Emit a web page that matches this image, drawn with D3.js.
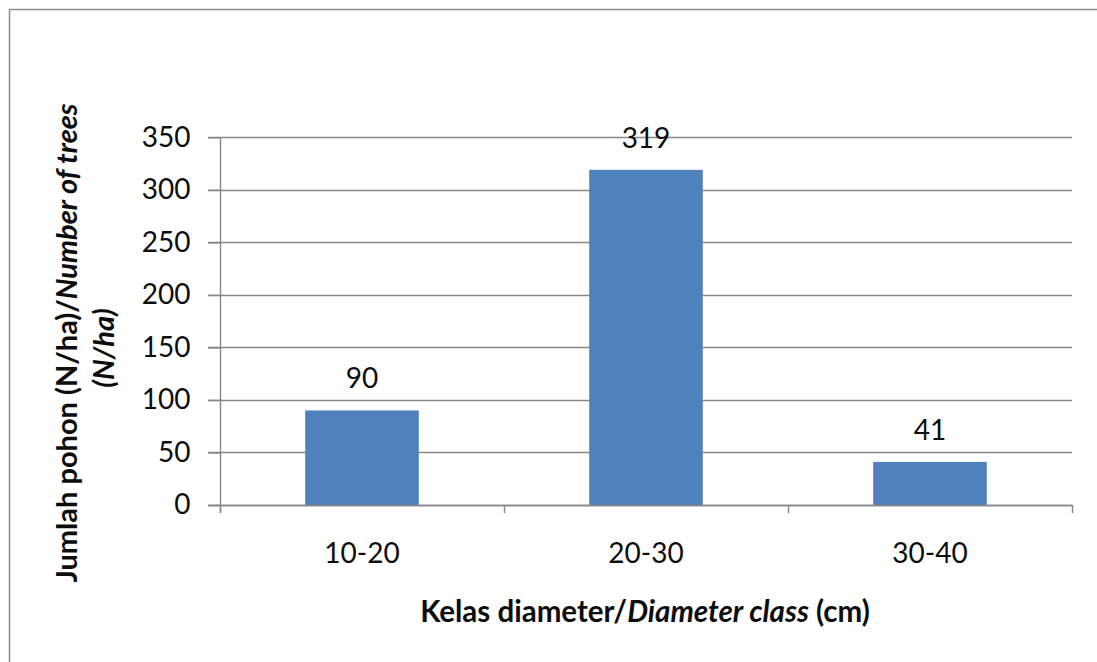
<!DOCTYPE html>
<html>
<head>
<meta charset="utf-8">
<script src="https://cdn.jsdelivr.net/npm/d3@7"></script>
<style>
  html, body { margin: 0; padding: 0; background: #fff; }
  svg { display: block; font-family: Lato, "Open Sans", sans-serif; }
</style>
</head>
<body>
<svg id="chart" width="1097" height="662"></svg>
<script>
// Tree density per diameter class
const categories = ["10-20", "20-30", "30-40"];
const values = [90, 319, 41];
const yTicks = [0, 50, 100, 150, 200, 250, 300, 350];

const svg = d3.select("#chart");
const W = 1097, H = 662;
const plot = { left: 220, right: 1072, top: 137.3, bottom: 505 };

svg.append("rect").attr("width", W).attr("height", H).attr("fill", "#fff");

// chart frame (left and top edges visible)
svg.append("path")
  .attr("d", `M9.5,${H} V9.5 H${W}`)
  .attr("fill", "none").attr("stroke", "#8c8c8c").attr("stroke-width", 1.5);

const x = d3.scaleBand().domain(categories)
  .range([plot.left, plot.right]).paddingInner(0.6).paddingOuter(0.3);
const y = d3.scaleLinear().domain([0, 350]).range([plot.bottom, plot.top]);

const axisColor = "#868686";
const textColor = "#0d0d0d";

// horizontal gridlines, extending through the tick marks
svg.append("g").selectAll("line").data(yTicks).join("line")
  .attr("x1", plot.left - 12).attr("x2", plot.right)
  .attr("y1", d => Math.round(y(d)) + 0.5).attr("y2", d => Math.round(y(d)) + 0.5)
  .attr("stroke", axisColor).attr("stroke-width", 1.4);

// y axis
const yAxis = d3.axisLeft(y).tickValues(yTicks).tickSize(12).tickPadding(18);
const gy = svg.append("g").attr("transform", `translate(${plot.left + 0.5},0)`).call(yAxis);
gy.select(".domain").remove();
gy.selectAll(".tick line").attr("stroke", axisColor).attr("stroke-width", 1.4);
gy.selectAll(".tick text")
  .attr("font-family", "Lato, sans-serif").attr("font-size", 28).attr("fill", textColor);
svg.append("line")
  .attr("x1", plot.left + 0.5).attr("x2", plot.left + 0.5)
  .attr("y1", plot.top).attr("y2", plot.bottom + 8)
  .attr("stroke", axisColor).attr("stroke-width", 1.4);

// bars
svg.append("g").selectAll("rect").data(values).join("rect")
  .attr("x", (d, i) => x(categories[i]))
  .attr("width", x.bandwidth())
  .attr("y", d => y(d))
  .attr("height", d => y(0) - y(d))
  .attr("fill", "#4F81BD");

// x axis line and category separators
svg.append("line")
  .attr("x1", plot.left - 12).attr("x2", plot.right)
  .attr("y1", Math.round(y(0)) + 0.5).attr("y2", Math.round(y(0)) + 0.5)
  .attr("stroke", axisColor).attr("stroke-width", 1.4);
const step = x.step();
const sepX = d3.range(categories.length + 1).map(i => plot.left + i * step);
svg.append("g").selectAll("line").data(sepX).join("line")
  .attr("x1", d => d + 0.5).attr("x2", d => d + 0.5)
  .attr("y1", plot.bottom).attr("y2", plot.bottom + 8)
  .attr("stroke", axisColor).attr("stroke-width", 1.4);

// category labels
svg.append("g").selectAll("text").data(categories).join("text")
  .attr("x", d => x(d) + x.bandwidth() / 2)
  .attr("y", 563)
  .attr("text-anchor", "middle")
  .attr("font-size", 28).attr("fill", textColor)
  .text(d => d);

// value labels
svg.append("g").selectAll("text").data(values).join("text")
  .attr("x", (d, i) => x(categories[i]) + x.bandwidth() / 2)
  .attr("y", d => y(d) - 22)
  .attr("text-anchor", "middle")
  .attr("font-size", 28).attr("fill", textColor)
  .text(d => d);

// x axis title
const xt = svg.append("text")
  .attr("x", 645).attr("y", 622)
  .attr("text-anchor", "middle")
  .attr("font-size", 29.5).attr("font-weight", "bold").attr("fill", textColor);
xt.append("tspan").text("Kelas diameter/");
xt.append("tspan").attr("font-style", "italic").text("Diameter class");
xt.append("tspan").text(" (cm)");

// y axis title (two lines, rotated)
const yt = svg.append("g").attr("transform", "translate(0,343) rotate(-90)");
const l1 = yt.append("text")
  .attr("x", 0).attr("y", 77)
  .attr("text-anchor", "middle")
  .attr("font-size", 29).attr("font-weight", "bold").attr("fill", textColor);
l1.append("tspan").text("Jumlah pohon (N/ha)/");
l1.append("tspan").attr("font-style", "italic").text("Number of trees");
yt.append("text")
  .attr("x", -5).attr("y", 114)
  .attr("text-anchor", "middle")
  .attr("font-size", 29).attr("font-weight", "bold").attr("font-style", "italic")
  .attr("fill", textColor)
  .text("(N/ha)");
</script>
</body>
</html>
